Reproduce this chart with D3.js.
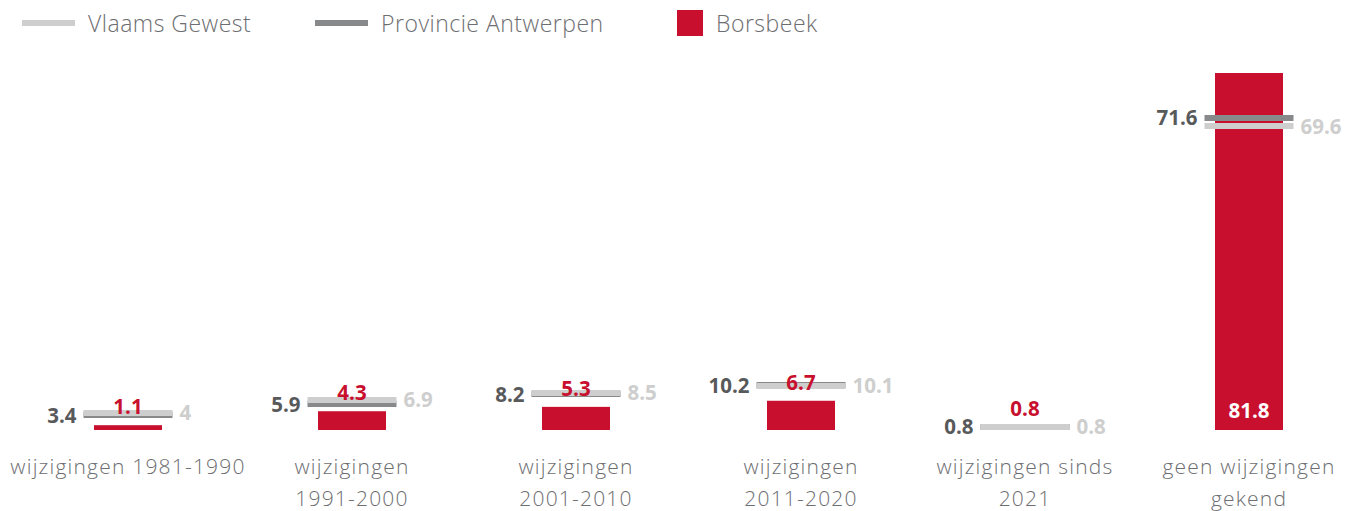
<!DOCTYPE html>
<html>
<head>
<meta charset="utf-8">
<script src="https://cdn.jsdelivr.net/npm/d3@7"></script>
<style>
  html, body { margin: 0; padding: 0; background: #fff; }
  svg { display: block; font-family: "Open Sans", Lato, sans-serif; }
</style>
</head>
<body>
<svg id="chart" width="1358" height="511"></svg>
<script>
// Categories (each label split into its display lines)
const categories = [
  "wijzigingen 1981-1990",
  "wijzigingen 1991-2000",
  "wijzigingen 2001-2010",
  "wijzigingen 2011-2020",
  "wijzigingen sinds 2021",
  "geen wijzigingen gekend"
];
const categoryLines = [
  ["wijzigingen 1981-1990"],
  ["wijzigingen", "1991-2000"],
  ["wijzigingen", "2001-2010"],
  ["wijzigingen", "2011-2020"],
  ["wijzigingen sinds", "2021"],
  ["geen wijzigingen", "gekend"]
];

// Series values (%)
const borsbeek = [1.1, 4.3, 5.3, 6.7, 0.8, 81.8];
const provincieAntwerpen = [3.4, 5.9, 8.2, 10.2, 0.8, 71.6];
const vlaamsGewest = [4, 6.9, 8.5, 10.1, 0.8, 69.6];

const seriesNames = ["Vlaams Gewest", "Provincie Antwerpen", "Borsbeek"];

const colors = {
  red: "#c8102e",
  dark: "#87898b",
  light: "#cdcecd",
  darkText: "#58595b",
  lightText: "#cdcecd",
  axisText: "#6d6e71"
};

const svg = d3.select("#chart");

const x = d3.scaleBand()
  .domain(categories)
  .range([16, 1361])
  .padding(0);

const y = d3.scaleLinear()
  .domain([0, d3.max(borsbeek)])
  .range([430, 73]);

const barW = 68;
const lineW = 89;
const lineH = 6;
const cx = c => Math.round(x(c) + x.bandwidth() / 2);
// Snap marker lines to whole pixels so coinciding values overlap cleanly
const lineTop = v => Math.round(y(v)) - lineH / 2;

const rows = categories.map((c, i) => ({
  c, lines: categoryLines[i],
  b: borsbeek[i], p: provincieAntwerpen[i], v: vlaamsGewest[i]
}));

// Borsbeek bars
svg.append("g").selectAll("rect")
  .data(rows).join("rect")
  .attr("x", d => cx(d.c) - barW / 2)
  .attr("y", d => y(d.b))
  .attr("width", barW)
  .attr("height", d => y(0) - y(d.b))
  .attr("fill", colors.red);

// Provincie Antwerpen markers (drawn below the Vlaams Gewest markers)
svg.append("g").selectAll("rect")
  .data(rows).join("rect")
  .attr("x", d => cx(d.c) - lineW / 2)
  .attr("y", d => lineTop(d.p))
  .attr("width", lineW)
  .attr("height", lineH)
  .attr("fill", colors.dark);

// Vlaams Gewest markers
svg.append("g").selectAll("rect")
  .data(rows).join("rect")
  .attr("x", d => cx(d.c) - lineW / 2)
  .attr("y", d => lineTop(d.v))
  .attr("width", lineW)
  .attr("height", lineH)
  .attr("fill", colors.light);

const fmt = v => String(v);

// Value labels
const labels = svg.append("g")
  .attr("font-weight", 700)
  .attr("font-size", 20.5);

labels.selectAll("text.prov")
  .data(rows).join("text")
  .attr("class", "prov")
  .attr("x", d => cx(d.c) - lineW / 2 - 7)
  .attr("y", d => y(d.p))
  .attr("dy", "0.36em")
  .attr("text-anchor", "end")
  .attr("fill", colors.darkText)
  .text(d => fmt(d.p));

labels.selectAll("text.vl")
  .data(rows).join("text")
  .attr("class", "vl")
  .attr("x", d => cx(d.c) + lineW / 2 + 7)
  .attr("y", d => y(d.v))
  .attr("dy", "0.36em")
  .attr("text-anchor", "start")
  .attr("fill", colors.lightText)
  .text(d => fmt(d.v));

const inside = d => (y(0) - y(d.b)) > 60;

labels.selectAll("text.bors")
  .data(rows).join("text")
  .attr("class", "bors")
  .attr("x", d => cx(d.c))
  .attr("y", d => inside(d) ? y(0) - 12 : y(d.b) - 11)
  .attr("text-anchor", "middle")
  .attr("fill", d => inside(d) ? "#ffffff" : colors.red)
  .text(d => fmt(d.b));

// Category labels
const axis = svg.append("g")
  .attr("font-size", 21)
  .attr("font-weight", 300)
  .attr("letter-spacing", 1.2)
  .attr("fill", colors.axisText);

axis.selectAll("text")
  .data(rows).join("text")
  .attr("x", d => cx(d.c))
  .attr("y", 474)
  .attr("text-anchor", "middle")
  .selectAll("tspan")
  .data(d => d.lines.map(l => ({ l, x: cx(d.c) })))
  .join("tspan")
  .attr("x", t => t.x)
  .attr("dy", (t, j) => j === 0 ? 0 : 32)
  .text(t => t.l);

// Legend
const legend = svg.append("g")
  .attr("font-size", 23)
  .attr("font-weight", 300)
  .attr("letter-spacing", 0.5)
  .attr("fill", colors.axisText);

const legendItems = [
  { name: seriesNames[0], x: 22, kind: "line", color: colors.light },
  { name: seriesNames[1], x: 315, kind: "line", color: colors.dark },
  { name: seriesNames[2], x: 677, kind: "box", color: colors.red }
];

legendItems.forEach(it => {
  if (it.kind === "line") {
    legend.append("rect")
      .attr("x", it.x).attr("y", 20)
      .attr("width", 53).attr("height", 6)
      .attr("fill", it.color);
    legend.append("text")
      .attr("x", it.x + 66).attr("y", 32)
      .text(it.name);
  } else {
    legend.append("rect")
      .attr("x", it.x).attr("y", 10)
      .attr("width", 26).attr("height", 26)
      .attr("fill", it.color);
    legend.append("text")
      .attr("x", it.x + 39).attr("y", 32)
      .text(it.name);
  }
});
</script>
</body>
</html>
